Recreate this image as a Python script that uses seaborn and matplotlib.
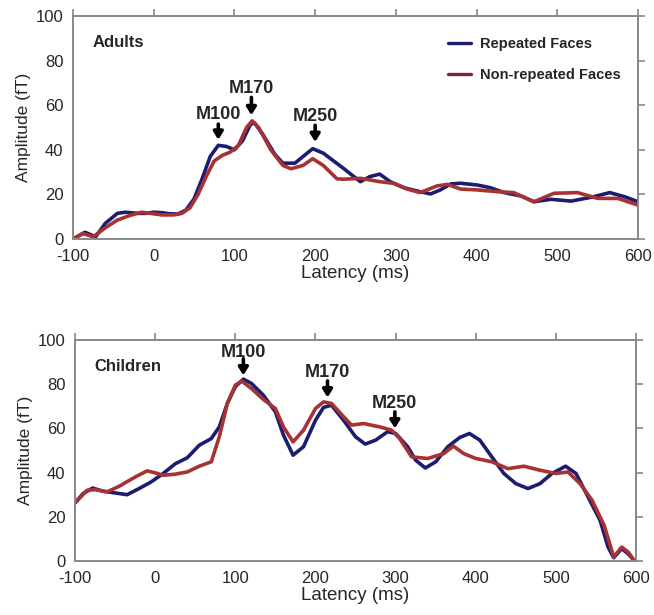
import numpy as np
import pandas as pd
import seaborn as sns
import matplotlib.pyplot as plt

# values (latency in ms, amplitude in fT)
adult_rep_t = [-100, -85, -72, -60, -45, -35, -20, -10, 0, 10, 20, 30, 40, 50, 60, 70, 80, 90, 100, 110,
               120, 125, 135, 150, 160, 175, 185, 197, 210, 235, 256, 268, 280, 293, 310, 330, 343, 355,
               368, 380, 401, 417, 434, 455, 471, 492, 517, 542, 565, 583, 600]
adult_rep_v = [0, 3, 1, 7, 11.5, 12, 11.5, 11.5, 12, 11.8, 11.3, 11.2, 13, 18, 27, 37, 42, 41.5, 40, 44,
               51.5, 52, 47, 38, 34, 34, 37, 40.5, 38.5, 31.7, 25.7, 28, 29.1, 25.7, 23, 21.2, 20.2, 22,
               24.7, 25, 24.2, 23, 20.8, 19.3, 16.7, 17.8, 17, 18.7, 20.8, 19, 16.7]

adult_non_t = [-100, -88, -75, -60, -45, -30, -15, 0, 10, 25, 35, 45, 55, 65, 75, 85, 95, 105, 115, 122,
               130, 145, 160, 170, 185, 197, 210, 227, 235, 256, 280, 297, 314, 330, 351, 364, 380, 401,
               426, 446, 471, 496, 525, 550, 575, 600]
adult_non_v = [0, 2.5, 1, 5, 8.5, 10.5, 12, 11.3, 10.8, 10.8, 11.5, 14, 20, 28, 35, 37.5, 39, 42, 50, 53,
               50, 40, 33, 31.5, 33, 36, 33, 27, 26.8, 27.2, 25.7, 25, 22.4, 20.8, 23.8, 24.5, 22.4, 22,
               21.2, 20.8, 16.7, 20.5, 20.8, 18.2, 18.2, 15.2]

child_rep_t = [-100, -90, -78, -65, -50, -35, -20, -5, 10, 25, 40, 55, 70, 80, 90, 100, 110, 120, 135, 150,
               160, 172, 185, 200, 210, 220, 235, 250, 262, 275, 290, 300, 315, 325, 337, 350, 365, 380,
               392, 405, 420, 435, 450, 465, 480, 495, 512, 525, 540, 555, 565, 572, 582, 590, 598]
child_rep_v = [26.3, 30.5, 33, 31.6, 30.8, 30, 32.8, 35.8, 39.6, 44, 46.7, 52.4, 55.4, 60.7, 71.3, 78.9,
               82.3, 80.4, 75, 67.5, 57, 47.9, 51.7, 63.7, 69.5, 70.5, 63.7, 56.2, 52.9, 54.7, 58.5, 57.7,
               51.7, 45.6, 42.1, 44.9, 51.7, 55.9, 57.7, 54.7, 47.1, 39.6, 35, 32.8, 35, 39.6, 42.9, 39.6,
               29, 18.4, 6.3, 1.5, 5.6, 3.3, 0]

child_non_t = [-100, -85, -75, -60, -45, -25, -10, 0, 10, 25, 40, 55, 70, 80, 90, 100, 108, 120, 135, 150,
               160, 172, 185, 200, 210, 220, 235, 245, 260, 280, 295, 305, 320, 340, 360, 372, 385, 400,
               420, 440, 460, 480, 500, 515, 530, 545, 560, 572, 582, 590, 598]
child_non_v = [26.3, 32, 32.3, 31.3, 33.8, 38, 40.8, 39.9, 38.8, 39.3, 40.3, 42.9, 44.9, 56.2, 71.3, 79.6,
               81.4, 78.1, 73.1, 69, 60.7, 53.9, 59.2, 69, 72, 71.3, 65.3, 61.5, 62.2, 60.7, 59.2, 55.4,
               47.1, 46.4, 48.6, 52, 48.6, 46.4, 44.9, 41.8, 42.9, 41.1, 39.6, 40.3, 35, 27.5, 16.2, 1.8,
               6.3, 4.1, 0]

conditions = ["Repeated Faces", "Non-repeated Faces"]
# peak labels: (text, x, text y, arrow start y, arrow tip y)
adult_peaks = [("M100", 80, 56, 51.5, 44.5), ("M170", 121, 67.5, 63.5, 55.5), ("M250", 200, 55, 51, 43.5)]
child_peaks = [("M100", 110, 94.5, 91.5, 84), ("M170", 215, 85.5, 81.5, 74), ("M250", 299, 71.5, 67.5, 60)]

sns.set_style("white")
plt.rcParams['font.family'] = ['Liberation Sans', 'DejaVu Sans']
plt.rcParams['axes.unicode_minus'] = False

palette = {"Repeated Faces": "#1c1c70", "Non-repeated Faces": "#a83232"}


def make_df(rep_t, rep_v, non_t, non_v):
    df_rep = pd.DataFrame({"Latency": rep_t, "Amplitude": rep_v, "cond": conditions[0]})
    df_non = pd.DataFrame({"Latency": non_t, "Amplitude": non_v, "cond": conditions[1]})
    return pd.concat([df_rep, df_non], ignore_index=True)


def style_axes(ax):
    ax.set_xlim(-100, 600)
    ax.set_ylim(0, 100)
    ax.set_xticks(np.arange(-100, 601, 100))
    ax.set_yticks(np.arange(0, 101, 20))
    for side in ["left", "right", "top", "bottom"]:
        ax.spines[side].set_visible(True)
        ax.spines[side].set_color("#888888")
        ax.spines[side].set_linewidth(1.4)
    ax.tick_params(axis="both", direction="out", length=5, width=1.2, color="#888888",
                   labelsize=12, top=True, right=True, labeltop=False, labelright=False, pad=2)
    ax.set_xlabel("Latency (ms)", fontsize=13.5, labelpad=1)
    ax.set_ylabel("Amplitude (fT)", fontsize=12.5, labelpad=3)


def add_peaks(ax, peaks):
    for name, x, ty, y0, tip in peaks:
        ax.text(x, ty, name, ha="center", va="center", fontsize=13, fontweight="bold")
        ax.annotate("", xy=(x, tip), xytext=(x, y0),
                    arrowprops=dict(arrowstyle="-|>,head_width=0.28,head_length=0.45",
                                    color="black", lw=2.6, shrinkA=0, shrinkB=0))


fig = plt.figure(figsize=(6.54, 6.15), dpi=100)
ax1 = fig.add_axes([0.1116, 0.6114, 0.864, 0.3626])
ax2 = fig.add_axes([0.1147, 0.0878, 0.858, 0.3593])

df_adult = make_df(adult_rep_t, adult_rep_v, adult_non_t, adult_non_v)
df_child = make_df(child_rep_t, child_rep_v, child_non_t, child_non_v)

sns.lineplot(data=df_adult, x="Latency", y="Amplitude", hue="cond", hue_order=conditions,
             palette=palette, estimator=None, linewidth=2.6, ax=ax1)
sns.lineplot(data=df_child, x="Latency", y="Amplitude", hue="cond", hue_order=conditions,
             palette=palette, estimator=None, linewidth=2.6, ax=ax2, legend=False)

for ax in [ax1, ax2]:
    for line in ax.get_lines():
        line.set_solid_joinstyle("round")
        line.set_solid_capstyle("round")

style_axes(ax1)
style_axes(ax2)

ax1.text(-76, 88, "Adults", fontsize=12, fontweight="bold", va="center")
ax2.text(-76, 88, "Children", fontsize=12, fontweight="bold", va="center")

add_peaks(ax1, adult_peaks)
add_peaks(ax2, child_peaks)

handles, labels = ax1.get_legend_handles_labels()
handles[1].set_color("#7a2438")
leg = ax1.legend(handles, labels, loc="upper left", bbox_to_anchor=(0.64, 0.965), frameon=False,
                 handlelength=1.6, handletextpad=0.6, labelspacing=1.15,
                 prop={"weight": "bold", "size": 10.5})
for h in leg.legend_handles:
    h.set_linewidth(2.4)

fig.savefig("out.png", dpi=100)
